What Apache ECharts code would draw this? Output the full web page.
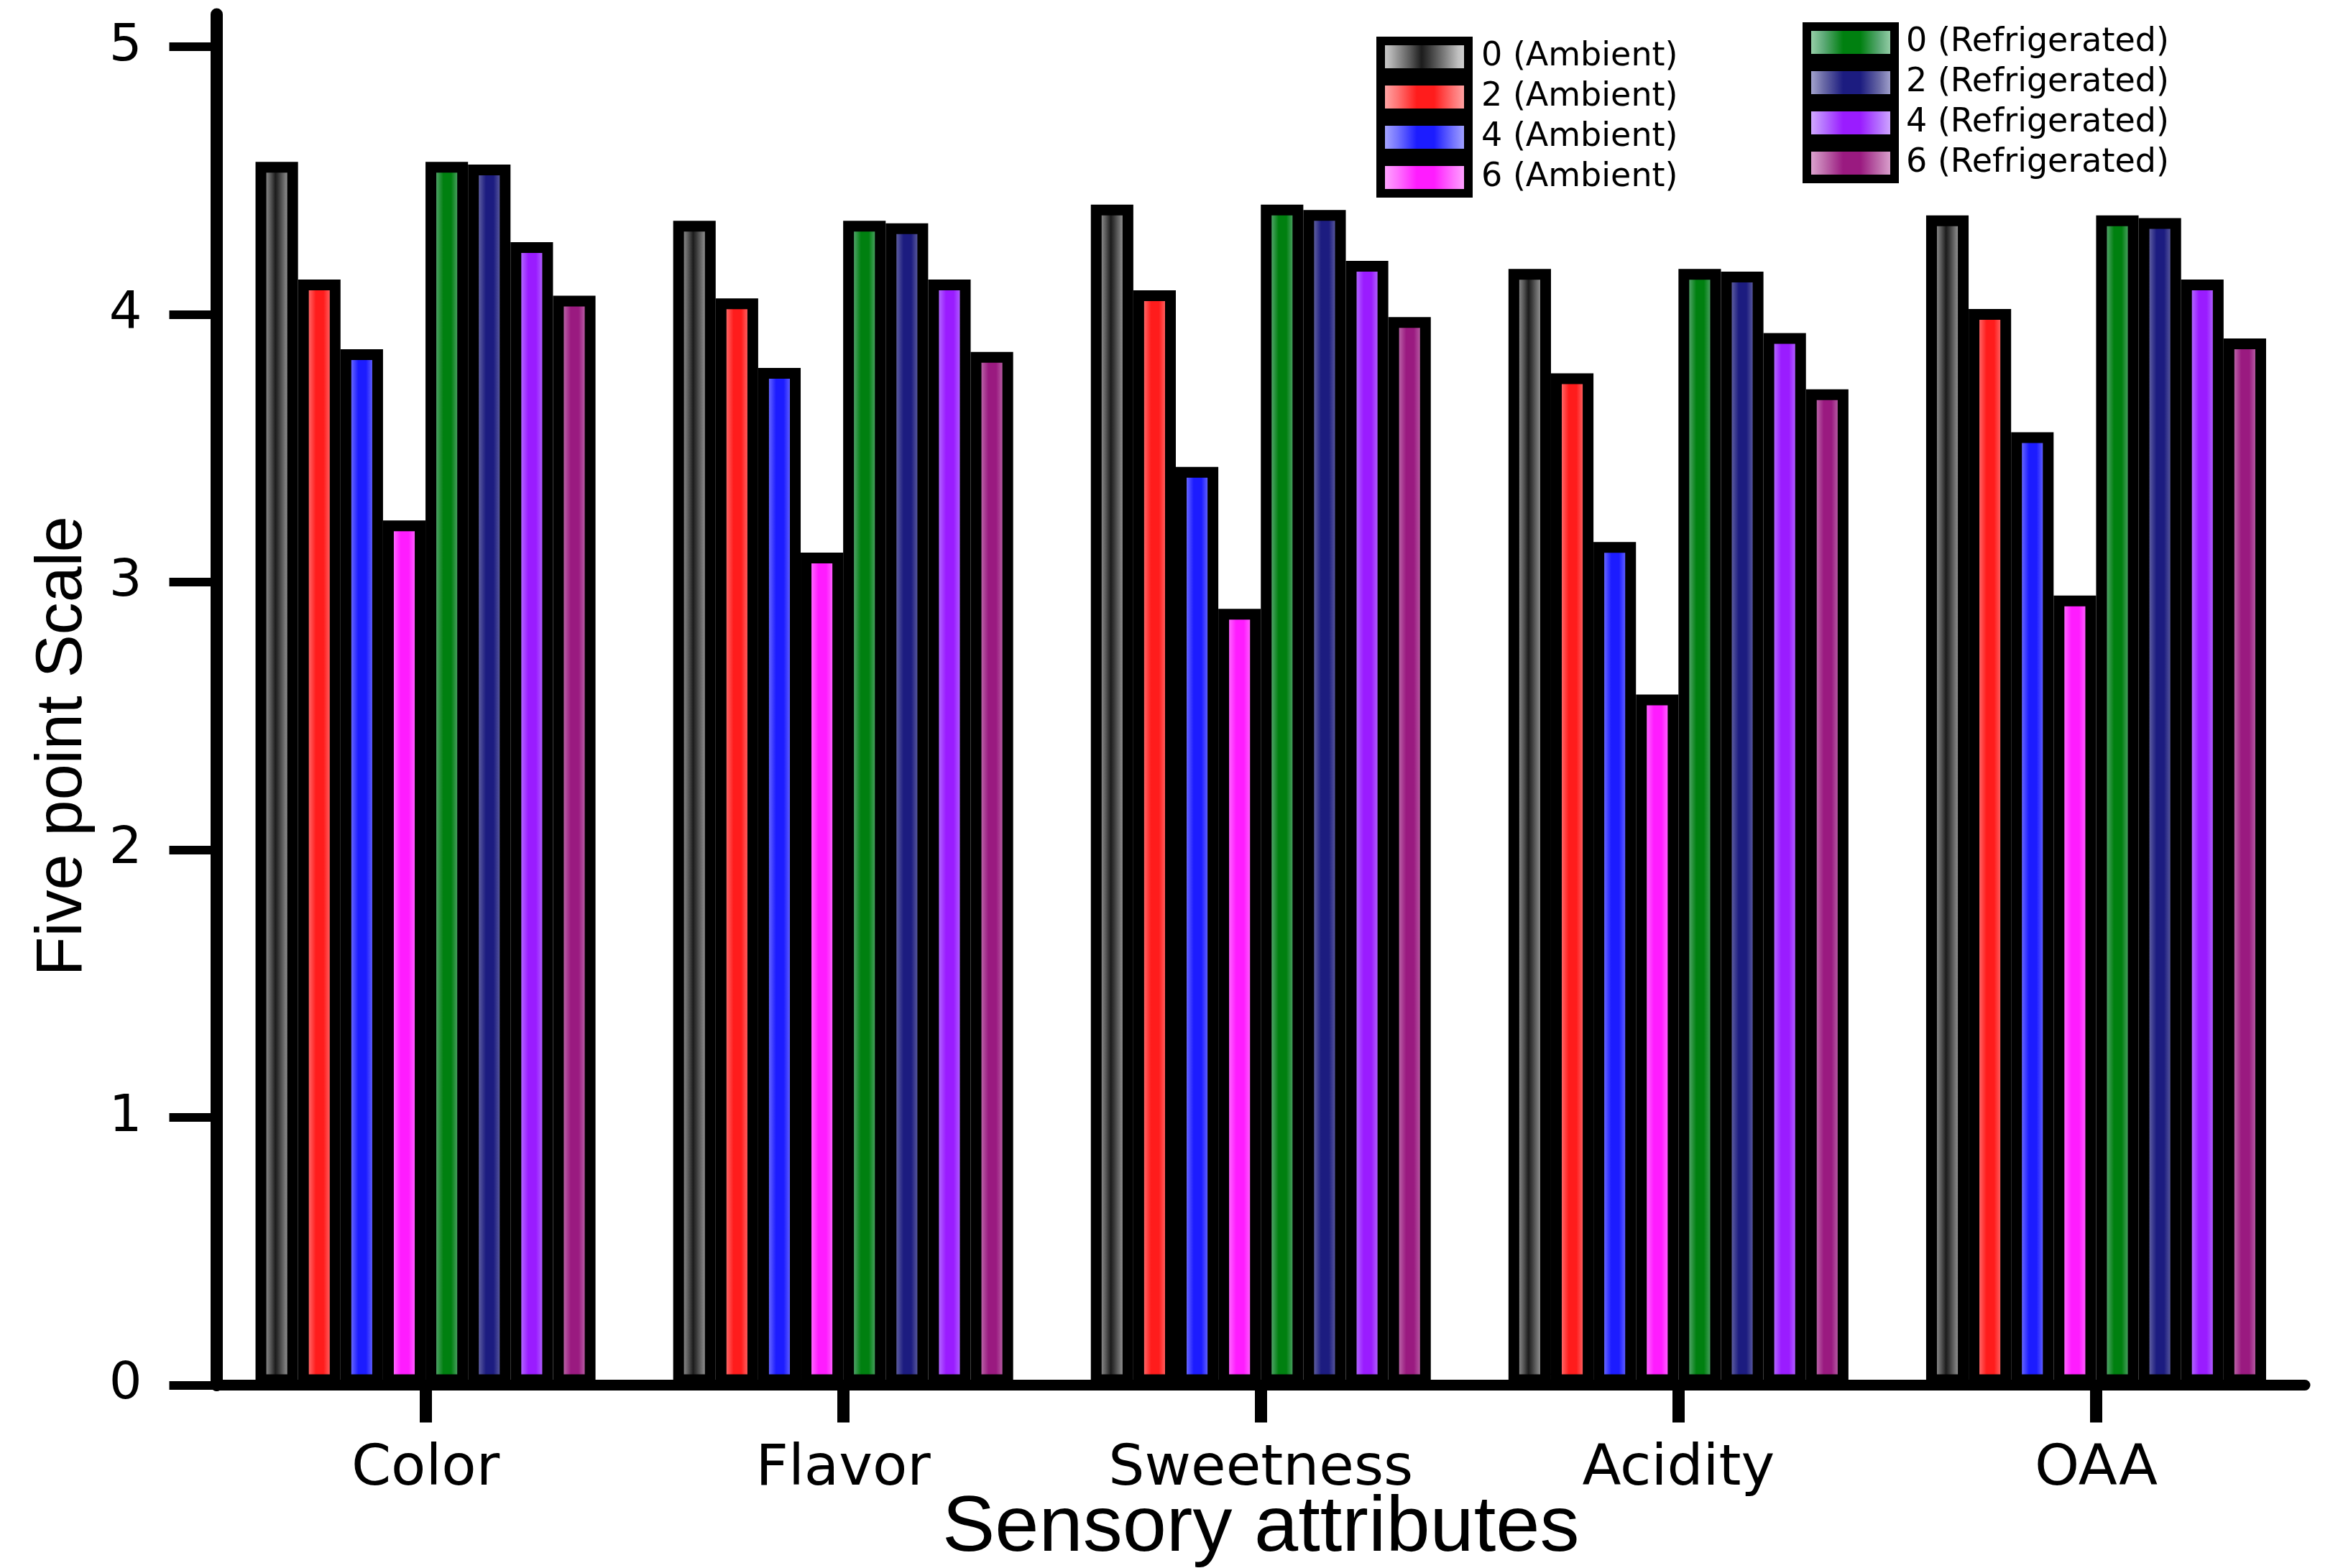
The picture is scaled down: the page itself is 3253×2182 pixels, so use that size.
<!DOCTYPE html>
<html>
<head>
<meta charset="utf-8">
<script src="https://cdn.jsdelivr.net/npm/echarts@6/dist/echarts.min.js"></script>
<style>
html,body{margin:0;padding:0;background:#fff;}
#chart{width:3253px;height:2182px;}
</style>
</head>
<body>
<div id="chart"></div>
<script>
// ---- data ----
const categories = ['Color', 'Flavor', 'Sweetness', 'Acidity', 'OAA'];
const seriesNames = ['0 (Ambient)', '2 (Ambient)', '4 (Ambient)', '6 (Ambient)',
                     '0 (Refrigerated)', '2 (Refrigerated)', '4 (Refrigerated)', '6 (Refrigerated)'];
const ambient0 = [4.57, 4.35, 4.41, 4.17, 4.37];
const ambient2 = [4.13, 4.06, 4.09, 3.78, 4.02];
const ambient4 = [3.87, 3.80, 3.43, 3.15, 3.56];
const ambient6 = [3.23, 3.11, 2.90, 2.58, 2.95];
const refrig0 = [4.57, 4.35, 4.41, 4.17, 4.37];
const refrig2 = [4.56, 4.34, 4.39, 4.16, 4.36];
const refrig4 = [4.27, 4.13, 4.20, 3.93, 4.13];
const refrig6 = [4.07, 3.86, 3.99, 3.72, 3.91];
const yMin = 0, yMax = 5, yStep = 1;

// ---- styling ----
function grad(light, mid, full) {
  return new echarts.graphic.LinearGradient(0, 0, 1, 0, [
    {offset: 0, color: light}, {offset: 0.22, color: mid}, {offset: 0.42, color: full},
    {offset: 0.6, color: full}, {offset: 0.8, color: mid}, {offset: 1, color: light}
  ]);
}
const grayGrad = new echarts.graphic.LinearGradient(0, 0, 1, 0, [
  {offset: 0, color: '#e4e4e4'}, {offset: 0.15, color: '#b4b4b4'}, {offset: 0.35, color: '#5a5a5a'},
  {offset: 0.47, color: '#1c1c1c'}, {offset: 0.55, color: '#3a3a3a'}, {offset: 0.7, color: '#7a7a7a'},
  {offset: 0.85, color: '#c0c0c0'}, {offset: 1, color: '#e6e6e6'}
]);
const fills = [
  grayGrad,
  grad('#ffc4c4', '#ff7474', '#ff1c1c'),
  grad('#c4c4ff', '#7474ff', '#1c1cff'),
  grad('#ffc4ff', '#ff74ff', '#ff1cff'),
  grad('#bce8c8', '#5eaa78', '#008010'),
  grad('#cacae8', '#6a6aa6', '#1c1c80'),
  grad('#e2ccff', '#b674ff', '#9a1cff'),
  grad('#eec4e4', '#c070ae', '#9a1a80')
];
const dataSets = [ambient0, ambient2, ambient4, ambient6, refrig0, refrig2, refrig4, refrig6];

const series = dataSets.map((d, i) => ({
  name: seriesNames[i],
  type: 'bar',
  xAxisIndex: 0, yAxisIndex: 0,
  data: d,
  barGap: '0%',
  barCategoryGap: '18.6%',
  itemStyle: {color: fills[i], borderColor: '#000', borderWidth: 15},
  emphasis: {disabled: true}
}));

function legendCfg(left, top, names, padLeft) {
  return {
    orient: 'vertical',
    left: left, top: top,
    data: names,
    icon: 'rect',
    itemWidth: 122,
    itemHeight: 44,
    itemGap: 0,
    padding: 0,
    selectedMode: false,
    itemStyle: {borderColor: '#000', borderWidth: 12},
    textStyle: {fontFamily: 'DejaVu Sans', fontSize: 46, color: '#000', lineHeight: 44, padding: [0, 0, 0, padLeft]}
  };
}

const option = {
  backgroundColor: '#fff',
  animation: false,
  grid: [
    {left: 301.5, right: 46, top: 65, bottom: 254.5, outerBoundsMode: 'none', containLabel: false},
    {left: 301.5, right: 46, top: 20, bottom: 254.5, outerBoundsMode: 'none', containLabel: false}
  ],
  legend: [
    legendCfg(1915, 51, seriesNames.slice(0, 4), 13),
    legendCfg(2508, 31, seriesNames.slice(4), 11)
  ],
  xAxis: [
    {
      type: 'category', gridIndex: 0, data: categories,
      name: 'Sensory attributes', nameLocation: 'middle', nameGap: 145, nameMoveOverlap: false,
      nameTextStyle: {fontFamily: 'Liberation Sans', fontSize: 110, color: '#000'},
      axisLine: {show: true, lineStyle: {color: '#000', width: 15}},
      axisTick: {show: true, alignWithLabel: true, length: 52, lineStyle: {color: '#000', width: 17}},
      axisLabel: {fontFamily: 'DejaVu Sans', fontSize: 79, color: '#000', margin: 78},
      splitLine: {show: false}
    },
    {type: 'value', gridIndex: 1, show: false}
  ],
  yAxis: [
    {
      type: 'value', gridIndex: 0, min: yMin, max: yMax, interval: yStep,
      name: 'Five point Scale', nameLocation: 'middle', nameGap: 168, nameMoveOverlap: false,
      nameTextStyle: {fontFamily: 'Liberation Sans', fontSize: 90, color: '#000', padding: [0, 84, 0, 0]},
      axisLine: {show: true, lineStyle: {color: '#000', width: 17}},
      axisTick: {show: true, length: 66, lineStyle: {color: '#000', width: 12}},
      axisLabel: {fontFamily: 'DejaVu Sans', fontSize: 72, color: '#000', margin: 104},
      splitLine: {show: false}
    },
    {
      type: 'value', gridIndex: 1, min: 0, max: 1,
      axisLine: {show: true, lineStyle: {color: '#000', width: 17}},
      axisTick: {show: false}, axisLabel: {show: false}, splitLine: {show: false}
    }
  ],
  series: series
};

const chart = echarts.init(document.getElementById('chart'), null, {renderer: 'canvas', width: 3253, height: 2182});
chart.setOption(option);
</script>
</body>
</html>
